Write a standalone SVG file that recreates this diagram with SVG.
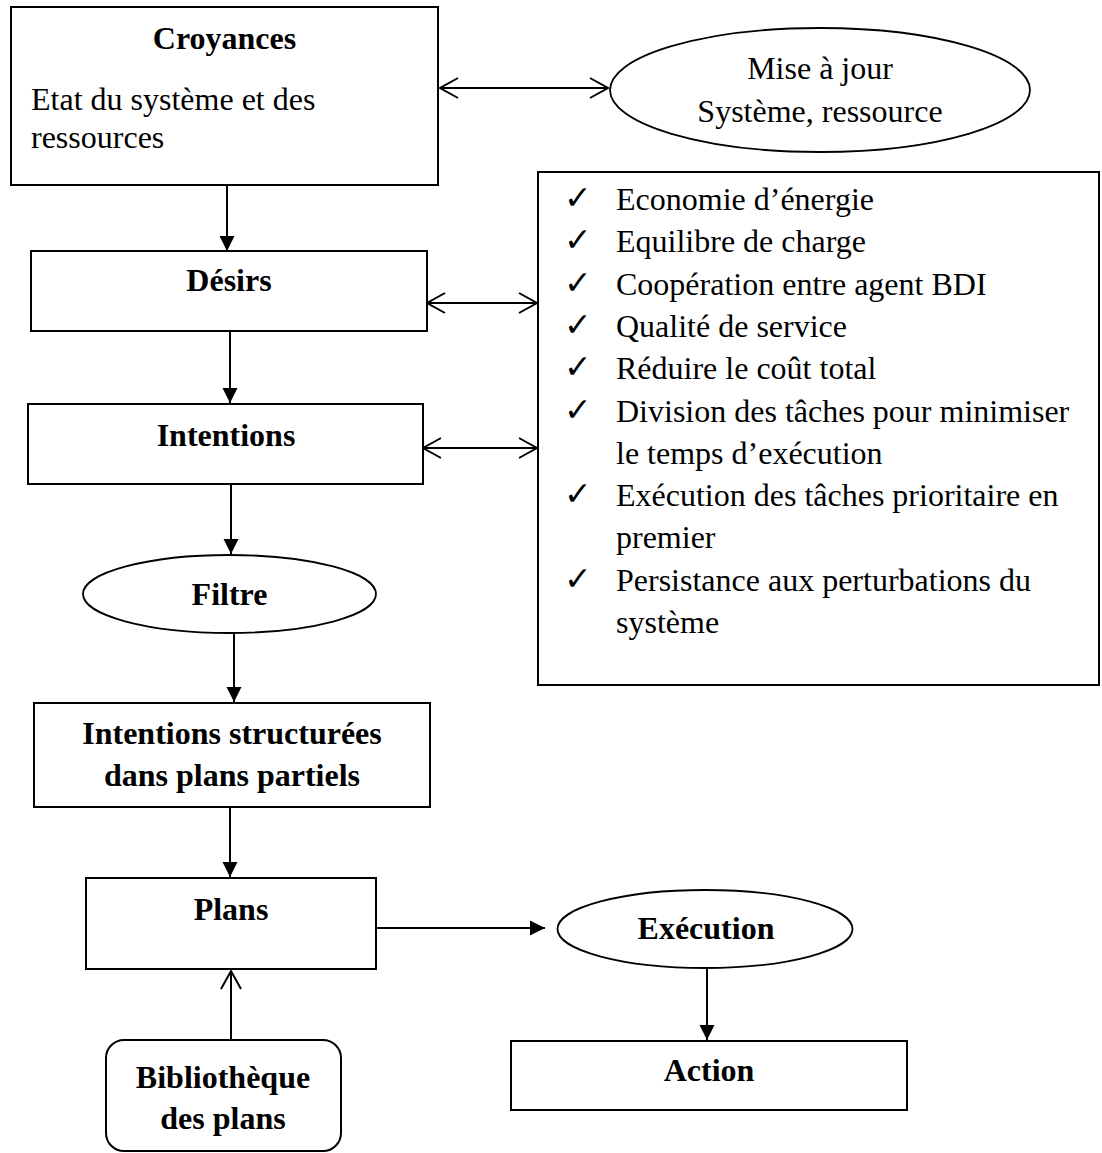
<svg xmlns="http://www.w3.org/2000/svg" width="1102" height="1153" viewBox="0 0 1102 1153">
  <style>
    .box { fill: #ffffff; stroke: #000000; stroke-width: 2; }
    .oval { fill: #ffffff; stroke: #000000; stroke-width: 1.8; }
    .t { font-family: "Liberation Serif", "Times New Roman", serif; font-size: 32px; fill: #000000; }
    .b { font-weight: bold; }
    .c { text-anchor: middle; }
    .chk { font-family: "DejaVu Sans", sans-serif; font-size: 33px; fill: #000000; }
    .link { stroke: #000000; stroke-width: 2; fill: none; }
    .solid { marker-end: url(#tri); }
    .open1 { marker-end: url(#vee); }
    .open2 { marker-start: url(#vee); marker-end: url(#vee); }
  </style>
  <defs>
    <marker id="tri" markerUnits="userSpaceOnUse" markerWidth="16" markerHeight="16" viewBox="0 0 16 16" refX="15" refY="8" orient="auto">
      <path d="M0,0.5 L15,8 L0,15.5 z" fill="#000000"/>
    </marker>
    <marker id="vee" markerUnits="userSpaceOnUse" markerWidth="22" markerHeight="24" viewBox="0 0 22 24" refX="19" refY="12" orient="auto-start-reverse">
      <path d="M1,2 L19,12 L1,22" fill="none" stroke="#000000" stroke-width="2"/>
    </marker>
  </defs>

  <rect width="1102" height="1153" fill="#ffffff"/>

  <!-- connectors -->
  <g id="connectors">
    <line class="link open2" x1="440" y1="88" x2="608" y2="88"/>
    <line class="link solid" x1="227" y1="185" x2="227" y2="251"/>
    <line class="link open2" x1="427" y1="303" x2="537" y2="303"/>
    <line class="link solid" x1="230" y1="331" x2="230" y2="403"/>
    <line class="link open2" x1="423" y1="448" x2="537" y2="448"/>
    <line class="link solid" x1="231" y1="484" x2="231" y2="554"/>
    <line class="link solid" x1="234" y1="633" x2="234" y2="702"/>
    <line class="link solid" x1="230" y1="807" x2="230" y2="877"/>
    <line class="link open1" x1="231" y1="1040" x2="231" y2="971"/>
    <line class="link solid" x1="376" y1="928" x2="545" y2="928"/>
    <line class="link solid" x1="707" y1="968" x2="707" y2="1040"/>
  </g>

  <g id="croyances">
    <rect class="box" x="11" y="7" width="427" height="178"/>
    <text class="t b c" x="224.5" y="49">Croyances</text>
    <text class="t" x="31" y="110">Etat du système et des</text>
    <text class="t" x="31" y="148">ressources</text>
  </g>

  <g id="mise-a-jour">
    <ellipse class="oval" cx="820" cy="90" rx="210" ry="62"/>
    <text class="t c" x="820" y="79">Mise à jour</text>
    <text class="t c" x="820" y="122">Système, ressource</text>
  </g>

  <g id="desirs">
    <rect class="box" x="31" y="251" width="396" height="80"/>
    <text class="t b c" x="229" y="291">Désirs</text>
  </g>

  <g id="intentions">
    <rect class="box" x="28" y="404" width="395" height="80"/>
    <text class="t b c" x="226" y="446">Intentions</text>
  </g>

  <g id="objectifs">
    <rect class="box" x="538" y="172" width="561" height="513"/>
    <g class="chk">
      <text x="564" y="209">✓</text>
      <text x="564" y="251">✓</text>
      <text x="564" y="294">✓</text>
      <text x="564" y="336">✓</text>
      <text x="564" y="378">✓</text>
      <text x="564" y="421">✓</text>
      <text x="564" y="505">✓</text>
      <text x="564" y="590">✓</text>
    </g>
    <text class="t" x="616" y="210">Economie d’énergie</text>
    <text class="t" x="616" y="252">Equilibre de charge</text>
    <text class="t" x="616" y="295">Coopération entre agent BDI</text>
    <text class="t" x="616" y="337">Qualité de service</text>
    <text class="t" x="616" y="379">Réduire le coût total</text>
    <text class="t" x="616" y="422">Division des tâches pour minimiser</text>
    <text class="t" x="616" y="464">le temps d’exécution</text>
    <text class="t" x="616" y="506">Exécution des tâches prioritaire en</text>
    <text class="t" x="616" y="548">premier</text>
    <text class="t" x="616" y="591">Persistance aux perturbations du</text>
    <text class="t" x="616" y="633">système</text>
  </g>

  <g id="filtre">
    <ellipse class="oval" cx="229.5" cy="594" rx="146.5" ry="39"/>
    <text class="t b c" x="229.5" y="605">Filtre</text>
  </g>

  <g id="intentions-structurees">
    <rect class="box" x="34" y="703" width="396" height="104"/>
    <text class="t b c" x="232" y="744">Intentions structurées</text>
    <text class="t b c" x="232" y="786">dans plans partiels</text>
  </g>

  <g id="plans">
    <rect class="box" x="86" y="878" width="290" height="91"/>
    <text class="t b c" x="231" y="920">Plans</text>
  </g>

  <g id="execution">
    <ellipse class="oval" cx="705" cy="929" rx="147.5" ry="39"/>
    <text class="t b c" x="706" y="939">Exécution</text>
  </g>

  <g id="action">
    <rect class="box" x="511" y="1041" width="396" height="69"/>
    <text class="t b c" x="709" y="1081">Action</text>
  </g>

  <g id="bibliotheque">
    <rect class="box" x="106" y="1040" width="235" height="111" rx="18" ry="18"/>
    <text class="t b c" x="223" y="1088">Bibliothèque</text>
    <text class="t b c" x="223" y="1129">des plans</text>
  </g>
</svg>
